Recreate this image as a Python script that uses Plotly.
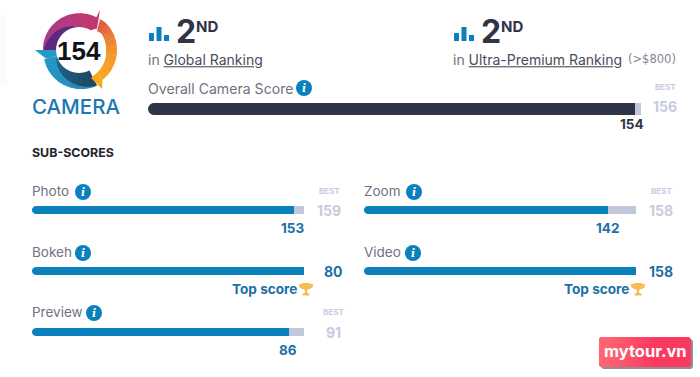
import numpy as np
import plotly.graph_objects as go

# ---------- data ----------
overall_label = "Overall Camera Score"
overall_score = 154
overall_best = 156
logo_score = 154
rank_global = "2"
rank_premium = "2"
sub_names = ["Photo", "Bokeh", "Preview", "Zoom", "Video"]
sub_scores = [153, 80, 86, 142, 158]
sub_best = [159, 80, 91, 158, 158]

# ---------- page geometry (pixels) ----------
W, H = 700, 377
FONT = "Inter"
DARK = "#2f3546"
BLUE = "#0a80bc"
VALBLUE = "#1d6fa8"
TRACK = "#c3c7dc"
GREY = "#71717f"
BESTC = "#c8cbdd"

fx = lambda x: x / W
fy = lambda y: 1 - y / H

sub_geo = [  # x0, x1, bar top, bar bottom
    (32, 304, 206, 214), (32, 304, 267, 275), (32, 304, 328, 336),
    (364, 636, 206, 214), (364, 636, 267, 275),
]
label_y = [191, 252, 312, 191, 252]
info_x = [83, 83, 94, 414, 413]
best_x = [329, 333, 333, 661, 661]
top_text_x = [0, 297, 0, 0, 629]

fig = go.Figure()
shapes, notes = [], []


def text(x, y, s, size, color, bold=False, anchor="center", family=FONT, weight=None):
    font = dict(size=size, color=color, family=family)
    if weight:
        font["weight"] = weight
    notes.append(dict(x=fx(x), y=fy(y), xref="paper", yref="paper", text=f"<b>{s}</b>" if bold else s,
                      showarrow=False, xanchor=anchor, yanchor="middle",
                      font=font, borderpad=0, borderwidth=0))


def poly(points, color, line=None):
    d = "M" + " L".join(f"{fx(x):.5f},{fy(y):.5f}" for x, y in points) + " Z"
    shapes.append(dict(type="path", xref="paper", yref="paper", path=d, fillcolor=color,
                       line=dict(width=0) if line is None else line, layer="above"))


def circle(cx, cy, r, color):
    shapes.append(dict(type="circle", xref="paper", yref="paper", x0=fx(cx - r), x1=fx(cx + r),
                       y0=fy(cy + r), y1=fy(cy - r), fillcolor=color, line=dict(width=0), layer="above"))


def rect(x0, y0, x1, y1, color):
    poly([(x0, y0), (x1, y0), (x1, y1), (x0, y1)], color)


def rounded(x0, y0, x1, y1, r, color):
    pts = []
    for cx, cy, a0 in [(x1 - r, y0 + r, 90), (x1 - r, y1 - r, 0), (x0 + r, y1 - r, -90), (x0 + r, y0 + r, 180)]:
        for a in np.radians(np.linspace(a0, a0 - 90, 7)):
            pts.append((cx + r * np.cos(a), cy - r * np.sin(a)))
    poly(pts, color)


def add_bar(idx, x0, x1, top, bottom, value, best, color, radius):
    xa, ya = f"x{idx}" if idx > 1 else "x", f"y{idx}" if idx > 1 else "y"
    for v, c in ((best, TRACK), (value, color)):
        fig.add_trace(go.Bar(x=[v], y=[0], width=[1], orientation="h", marker=dict(color=c, line=dict(width=0)),
                             xaxis=xa, yaxis=ya, showlegend=False, hoverinfo="skip"))
    key = "" if idx == 1 else str(idx)
    axis = dict(visible=False, fixedrange=True)
    fig.update_layout({
        f"xaxis{key}": dict(axis, domain=[fx(x0), fx(x1)], range=[0, best], anchor=ya),
        f"yaxis{key}": dict(axis, domain=[fy(bottom), fy(top)], range=[-0.5, 0.5], anchor=xa),
    })
    # white corner masks give the zero end of the bar its rounded look
    for yc, ys in ((top, 1), (bottom, -1)):
        curve = [(x0 - 0.5, yc - ys * 0.5), (x0 + radius, yc - ys * 0.5)]
        curve += [(x0 + radius - radius * np.sin(t), yc + ys * (radius - radius * np.cos(t)))
                  for t in np.linspace(0, np.pi / 2, 6)]
        curve += [(x0 - 0.5, yc + ys * radius)]
        poly(curve, "white")


def info(cx, cy, r=8):
    circle(cx, cy, r, BLUE)
    text(cx, cy, "<i>i</i>", r * 1.35, "white", bold=True, family="DejaVu Serif")


def rank_icon(x, base):
    rect(x, base - 8, x + 5, base, BLUE)
    rect(x + 7.5, base - 14, x + 12.5, base, BLUE)
    rect(x + 15, base - 6, x + 20, base, BLUE)


def trophy(cx, cy, c="#f6bb55"):
    poly([(cx - 4, cy - 6), (cx + 4, cy - 6), (cx + 3.6, cy - 1), (cx + 1, cy + 1.5), (cx + 1, cy + 3.5),
          (cx + 3.5, cy + 5), (cx + 3.5, cy + 6.5), (cx - 3.5, cy + 6.5), (cx - 3.5, cy + 5),
          (cx - 1, cy + 3.5), (cx - 1, cy + 1.5), (cx - 3.6, cy - 1)], c)
    poly([(cx - 7, cy - 5), (cx - 3.5, cy - 5), (cx - 3, cy + 0.5), (cx - 6.5, cy - 1.5)], c)
    poly([(cx + 7, cy - 5), (cx + 3.5, cy - 5), (cx + 3, cy + 0.5), (cx + 6.5, cy - 1.5)], c)


def mix(c0, c1, t):
    a = [int(c0[i:i + 2], 16) for i in (1, 3, 5)]
    b = [int(c1[i:i + 2], 16) for i in (1, 3, 5)]
    return "#" + "".join(f"{round(p + (q - p) * t):02x}" for p, q in zip(a, b))


# ---------- bars ----------
add_bar(1, 148, 641, 103, 115, overall_score, overall_best, DARK, 6)
for i, (name, val, best, g) in enumerate(zip(sub_names, sub_scores, sub_best, sub_geo)):
    add_bar(i + 2, g[0], g[1], g[2], g[3], val, best, BLUE, 4)
    text(g[0], label_y[i], name, 13.5, GREY, anchor="left")
    info(info_x[i], label_y[i] + 1)
    mid = (g[2] + g[3]) / 2
    if val < best:
        text(best_x[i], label_y[i], "BEST", 8, BESTC, bold=True)
        text(best_x[i], mid, str(best), 14, BESTC, bold=True)
        text(g[0] + (g[1] - g[0]) * val / best - 1, g[3] + 14, str(val), 13.5, VALBLUE, bold=True)
    else:
        text(best_x[i], mid, str(val), 14, VALBLUE, bold=True)
        text(top_text_x[i], g[3] + 14, "Top score", 13.6, VALBLUE, bold=True, anchor="right")
        trophy(top_text_x[i] + 9, g[3] + 14)

# ---------- header ----------
rect(0, 15, 7, 85, "#fbfbfb")
for x, rk, line in ((148, rank_global, "Global Ranking"), (453, rank_premium, "Ultra-Premium Ranking")):
    rank_icon(x + 1, 41)
    text(x + 28, 32, rk, 32, DARK, bold=True, anchor="left")
    text(x + 47.5, 27, "ND", 15, DARK, bold=True, anchor="left")
    text(x, 59, f"in <u><span style='color:#4b4b5c'>{line}</span></u>", 14, GREY, anchor="left")
text(676, 59, "(&gt;$800)", 11.5, "#85858f", anchor="right", family="DejaVu Sans")
text(148, 88, overall_label, 14.1, GREY, anchor="left")
info(304, 88)
text(665, 87, "BEST", 8, BESTC, bold=True)
text(665, 106, str(overall_best), 14, BESTC, bold=True)
text(632, 124, str(overall_score), 13.5, DARK, bold=True)
text(32, 152, "SUB-SCORES", 12.4, "#24242c", bold=True, anchor="left")

# ---------- logo ----------
CX, CY = 79, 50


def pol(r, a):
    t = np.radians(a)
    return (CX + r * np.cos(t), CY - r * np.sin(t))


def band(a0, a1, ro0, ro1, ri0, ri1, c0, c1=None, slices=10):
    """Ring piece; slices overlap slightly so the colour steps leave no seam."""
    c1 = c1 or c0
    edges = np.linspace(0, 1, slices + 1)
    for k in range(slices):
        t0, t1 = edges[k], min(edges[k + 1] + 0.01, 1)
        ts = np.linspace(t0, t1, 5)
        outer = [pol(ro0 + (ro1 - ro0) * t, a0 + (a1 - a0) * t) for t in ts]
        inner = [pol(ri0 + (ri1 - ri0) * t, a0 + (a1 - a0) * t) for t in ts][::-1]
        poly(outer + inner, mix(c0, c1, (t0 + t1) / 2))


# blue segment with the dark inner edge
poly([(35, 50), (58, 50), pol(22, 195), pol(34, 195)], "#259ac9")
band(195, 295, 36, 40, 22, 22, "#2398c8", "#2a86b4")
band(200, 297, 24, 40, 22, 22, "#1c6a94", "#1f4560")
# magenta segment with the purple inner edge
band(180, 58, 36, 37, 22, 22, "#a33a90", "#c2396f", slices=12)
poly([pol(37, 62), (100, 10), pol(28, 50), pol(22, 62)], "#c2396f")
band(180, 95, 35, 23, 22, 22, "#5a2a80", "#5c2a7c")
# orange segment with its two pointed ends
poly([pol(38, 48), (100, 19), (97, 31), pol(28, 36)], "#de5f44")
band(48, 0, 38, 38, 28, 27, "#e05f44", "#f0962d", slices=8)
band(0, -52, 38, 38, 27, 29, "#f0962d", "#f6a821", slices=6)
poly([pol(38, -52), (102, 89), (91, 78), pol(29, -52)], "#f6a821")

circle(CX, CY, 23, "white")
text(CX, CY + 1, str(logo_score), 26, "#111118", bold=True, family="Liberation Sans")
text(76, 106, "CAMERA", 20.5, "#1b78b4", family="Inter", weight=500)

# ---------- watermark ----------
LEFT_PINK, RIGHT_PINK = "#fc6470", "#fb3a62"
rounded(601, 339, 693, 369, 3, "#8f8f94")
rounded(599, 337, 691, 367, 3, RIGHT_PINK)
rounded(599, 337, 612, 367, 3, LEFT_PINK)
for k in range(12):
    rect(606 + 4 * k, 337, 610.5 + 4 * k, 367, mix(LEFT_PINK, RIGHT_PINK, k / 11))
text(645, 351, "mytour.vn", 16.5, "white", bold=True, family="Inter")

fig.update_layout(width=W, height=H, margin=dict(l=0, r=0, t=0, b=0), paper_bgcolor="white",
                  plot_bgcolor="rgba(0,0,0,0)", barmode="overlay", bargap=0, showlegend=False,
                  shapes=shapes, annotations=notes, hovermode=False)
fig.write_html("out.html", config=dict(displayModeBar=False, responsive=False),
               post_script="document.body.style.margin='0';")
